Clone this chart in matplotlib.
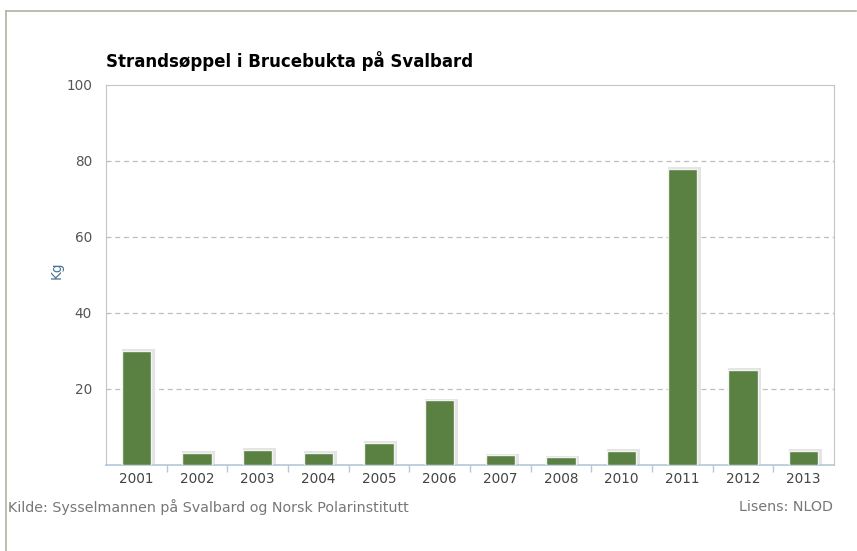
import matplotlib.pyplot as plt
from matplotlib.lines import Line2D

years = ["2001", "2002", "2003", "2004", "2005", "2006",
         "2007", "2008", "2010", "2011", "2012", "2013"]
kg = [30, 3.2, 4, 3.2, 5.8, 17, 2.6, 2.1, 3.7, 78, 25, 3.7]
yticks = [20, 40, 60, 80, 100]

W, H = 857, 551
fig = plt.figure(figsize=(W / 100, H / 100), dpi=100)
fig.patch.set_facecolor("white")

# outer frame: top and left edge only
fig.add_artist(Line2D([6 / W, 856 / W], [1 - 11 / H, 1 - 11 / H],
                      color="#aab5a2", lw=1.2, transform=fig.transFigure))
fig.add_artist(Line2D([6 / W, 6 / W], [0, 1 - 11 / H],
                      color="#aab5a2", lw=1.2, transform=fig.transFigure))

ax = fig.add_axes([106 / W, 1 - 465 / H, (834 - 106) / W, (465 - 85) / H])
x = range(len(years))

# soft shadow behind each bar
ax.bar([i + 0.03 for i in x], [v + 0.4 for v in kg], width=0.54,
       color="#e4e4e4", zorder=2)
ax.bar(x, kg, width=0.48, color="#5a8142", edgecolor="#f2f2f2",
       linewidth=1.0, zorder=3)

ax.set_xlim(-0.5, len(years) - 0.5)
ax.set_ylim(0, 100)
ax.set_yticks(yticks)
ax.set_yticklabels([str(t) for t in yticks])
ax.set_xticks(list(x))
ax.set_xticklabels(years)
ax.set_xticks([i + 0.5 for i in range(len(years) - 1)], minor=True)

ax.tick_params(axis="y", length=0, pad=10, labelsize=9.8, labelcolor="#555555")
ax.tick_params(axis="x", which="major", length=0, pad=5, labelsize=9.8,
               labelcolor="#444444")
ax.tick_params(axis="x", which="minor", length=5, color="#b5c7d8", width=1)

for t in yticks[:-1]:
    ax.axhline(t, color="#bdbdbd", lw=0.9, ls=(0, (4, 3)), zorder=1)

for side in ["left", "right", "top"]:
    ax.spines[side].set_color("#c4c4c4")
ax.spines["bottom"].set_color("#b5c7d8")
ax.spines["bottom"].set_linewidth(1.2)

fig.text(57 / W, 1 - 270 / H, "Kg", color="#4a7494", fontsize=9.8,
         rotation=90, ha="center", va="center")

fig.text(106 / W, 1 - 61 / H, "Strandsøppel i Brucebukta på Svalbard",
         fontsize=12, fontweight="bold", color="black", va="center")
fig.text(8 / W, 1 - 507 / H,
         "Kilde: Sysselmannen på Svalbard og Norsk Polarinstitutt",
         fontsize=10.3, color="#777777", va="center")
fig.text(833 / W, 1 - 507 / H, "Lisens: NLOD", fontsize=10.3,
         color="#777777", va="center", ha="right")

fig.savefig("out.png", dpi=100)
